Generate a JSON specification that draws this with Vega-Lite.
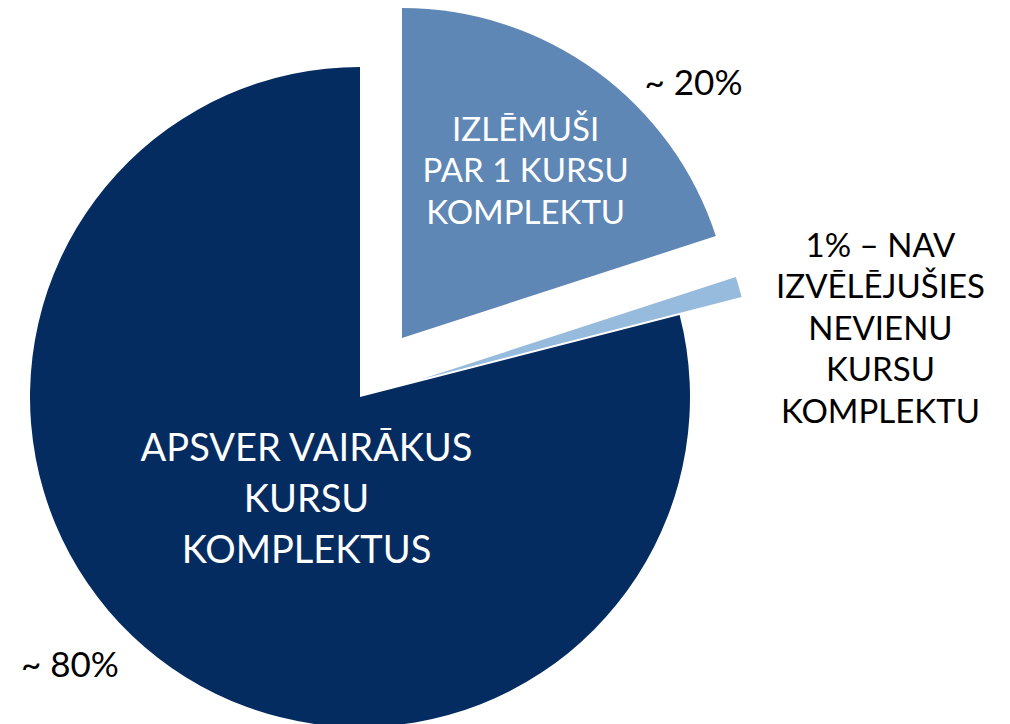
{
  "$schema": "https://vega.github.io/schema/vega-lite/v6.json",
  "width": 720,
  "height": 654,
  "autosize": {"type": "none"},
  "padding": {"left": 0, "top": 70, "right": 290, "bottom": 0},
  "background": "white",
  "config": {"view": {"stroke": null}, "font": "Lato"},
  "data": {
    "values": [
      {"ord": 1, "cat": "Izlēmuši par 1 kursu komplektu", "value": 20, "label": "IZLĒMUŠI\nPAR 1 KURSU\nKOMPLEKTU", "pct": "~ 20%"},
      {"ord": 2, "cat": "Nav izvēlējušies nevienu kursu komplektu", "value": 1, "label": "1% – NAV\nIZVĒLĒJUŠIES\nNEVIENU\nKURSU\nKOMPLEKTU", "pct": ""},
      {"ord": 3, "cat": "Apsver vairākus kursu komplektus", "value": 79, "label": "APSVER VAIRĀKUS\nKURSU\nKOMPLEKTUS", "pct": "~ 80%"}
    ]
  },
  "encoding": {
    "theta": {"field": "value", "type": "quantitative", "stack": true, "scale": {"domain": [0, 100]}},
    "order": {"field": "ord", "type": "quantitative", "sort": "ascending"},
    "detail": {"field": "ord", "type": "nominal"}
  },
  "layer": [
    {
      "mark": {"type": "arc", "radius": 330},
      "encoding": {
        "color": {"field": "cat", "type": "nominal", "legend": null, "scale": {"domain": ["Izlēmuši par 1 kursu komplektu", "Nav izvēlējušies nevienu kursu komplektu", "Apsver vairākus kursu komplektus"], "range": ["#5f87b5", "#96bbdc", "#042c61"]}},
        "opacity": {"condition": {"test": "datum.ord === 3", "value": 1}, "value": 0}
      }
    },
    {
      "mark": {"type": "arc", "radius": 330, "xOffset": 42, "yOffset": -59},
      "encoding": {
        "color": {"field": "cat", "type": "nominal", "legend": null},
        "opacity": {"condition": {"test": "datum.ord === 1", "value": 1}, "value": 0}
      }
    },
    {
      "mark": {"type": "arc", "radius": 330, "xOffset": 62, "yOffset": -18},
      "encoding": {
        "color": {"field": "cat", "type": "nominal", "legend": null},
        "opacity": {"condition": {"test": "datum.ord === 2", "value": 1}, "value": 0}
      }
    },
    {
      "mark": {"type": "text", "radius": 207, "xOffset": 42, "yOffset": -59, "dx": 2, "dy": -40, "fontSize": 33, "color": "white", "lineBreak": "\n", "lineHeight": 41.5, "align": "center", "baseline": "middle"},
      "encoding": {"text": {"condition": {"test": "datum.ord === 1", "field": "label"}, "value": ""}}
    },
    {
      "mark": {"type": "text", "radius": 387, "dx": 106, "fontSize": 35, "color": "black", "align": "center", "baseline": "middle"},
      "encoding": {"text": {"condition": {"test": "datum.ord === 1", "field": "pct"}, "value": ""}}
    },
    {
      "mark": {"type": "text", "radius": 543, "dx": -1, "dy": 1, "fontSize": 33, "color": "black", "lineBreak": "\n", "lineHeight": 41.5, "align": "center", "baseline": "middle"},
      "encoding": {"text": {"condition": {"test": "datum.ord === 2", "field": "label"}, "value": ""}}
    },
    {
      "mark": {"type": "text", "radius": 115, "dx": 17, "dy": -38, "fontSize": 38, "color": "white", "lineBreak": "\n", "lineHeight": 51, "align": "center", "baseline": "middle"},
      "encoding": {"text": {"condition": {"test": "datum.ord === 3", "field": "label"}, "value": ""}}
    },
    {
      "mark": {"type": "text", "radius": 395, "dx": -48, "dy": -43, "fontSize": 35, "color": "black", "align": "center", "baseline": "middle"},
      "encoding": {"text": {"condition": {"test": "datum.ord === 3", "field": "pct"}, "value": ""}}
    }
  ]
}
